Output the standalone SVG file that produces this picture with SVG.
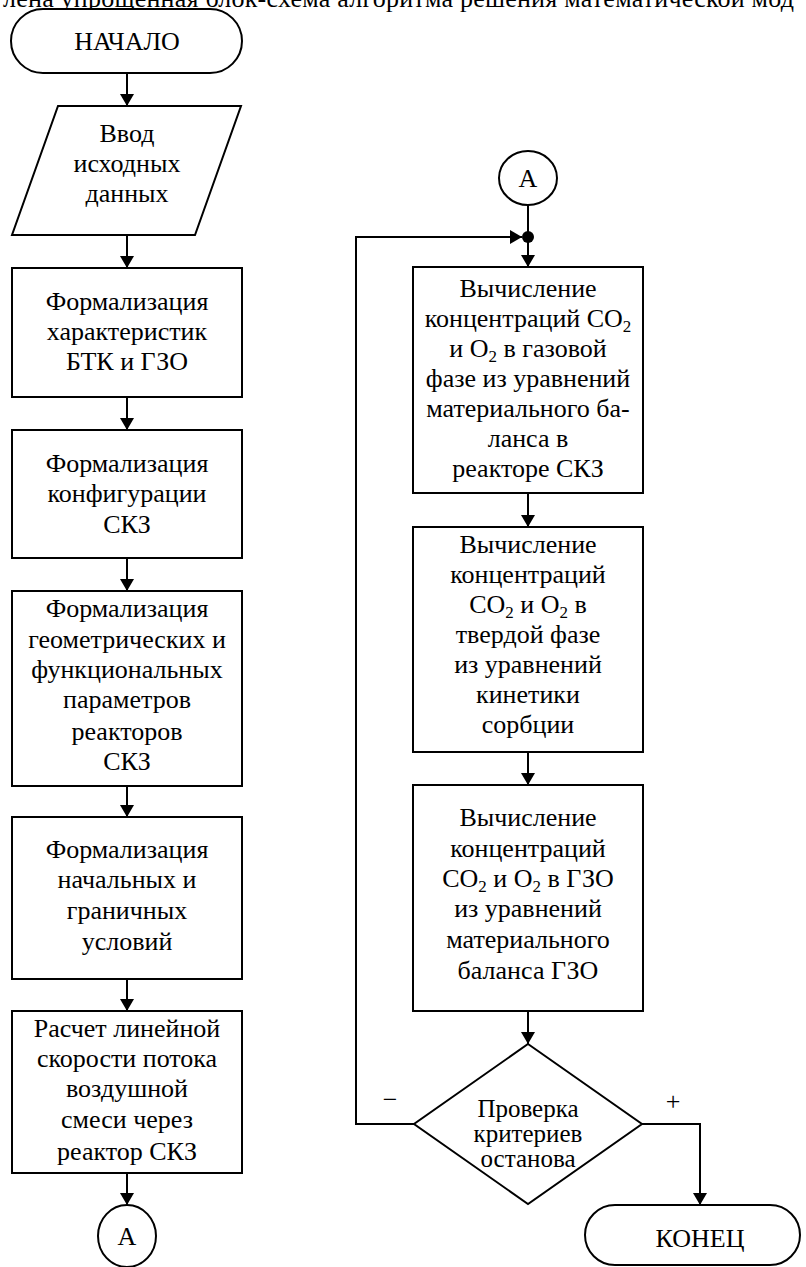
<svg xmlns="http://www.w3.org/2000/svg" width="806" height="1267" viewBox="0 0 806 1267">
<defs>
<style>
.s{fill:#fff;stroke:#000;stroke-width:2}
.t{font-size:26px;fill:#000;text-anchor:middle}
.c{fill:none;stroke:#000;stroke-width:2}
</style>
<marker id="ar" markerUnits="userSpaceOnUse" markerWidth="12" markerHeight="14" refX="12" refY="7" orient="auto" viewBox="0 0 12 14">
<path d="M0,0 L12,7 L0,14 z" fill="#000"/>
</marker>
</defs>
<rect width="806" height="1267" fill="#fff"/>
<g font-family="'Liberation Serif', 'Times New Roman', serif">
<text x="3" y="7" class="t" style="text-anchor:start" textLength="791" lengthAdjust="spacing">лена упрощенная блок-схема алгоритма решения математической мод</text>

<g id="connectors">
<path class="c" d="M127,73 V106" marker-end="url(#ar)"/>
<path class="c" d="M127,235 V268" marker-end="url(#ar)"/>
<path class="c" d="M127,397 V430" marker-end="url(#ar)"/>
<path class="c" d="M127,558 V591" marker-end="url(#ar)"/>
<path class="c" d="M127,786 V817" marker-end="url(#ar)"/>
<path class="c" d="M127,979 V1011" marker-end="url(#ar)"/>
<path class="c" d="M127,1173 V1205" marker-end="url(#ar)"/>
<path class="c" d="M528,205 V237"/>
<path class="c" d="M528,237 V267" marker-end="url(#ar)"/>
<path class="c" d="M528,493 V527" marker-end="url(#ar)"/>
<path class="c" d="M528,752 V785" marker-end="url(#ar)"/>
<path class="c" d="M528,1011 V1044" marker-end="url(#ar)"/>
<path class="c" d="M414,1124 H356 V237 H522" marker-end="url(#ar)"/>
<path class="c" d="M642,1124 H700 V1205" marker-end="url(#ar)"/>
<circle cx="528" cy="237" r="6" fill="#000"/>
<text x="390" y="1108" class="t">−</text>
<text x="673" y="1110" class="t">+</text>
</g>

<g id="start">
<rect class="s" x="11" y="9" width="231" height="64" rx="32"/>
<text x="127" y="50" class="t">НАЧАЛО</text>
</g>

<g id="input">
<polygon class="s" points="58,106 241,106 195,235 12,235"/>
<text class="t"><tspan x="127" y="142">Ввод</tspan><tspan x="127" y="172">исходных</tspan><tspan x="127" y="202">данных</tspan></text>
</g>

<g id="box1">
<rect class="s" x="12" y="268" width="230" height="129"/>
<text class="t"><tspan x="127" y="310">Формализация</tspan><tspan x="127" y="340">характеристик</tspan><tspan x="127" y="370">БТК и ГЗО</tspan></text>
</g>

<g id="box2">
<rect class="s" x="12" y="430" width="230" height="128"/>
<text class="t"><tspan x="127" y="472">Формализация</tspan><tspan x="127" y="502">конфигурации</tspan><tspan x="127" y="533">СКЗ</tspan></text>
</g>

<g id="box3">
<rect class="s" x="12" y="591" width="230" height="195"/>
<text class="t"><tspan x="127" y="617">Формализация</tspan><tspan x="127" y="648">геометрических и</tspan><tspan x="127" y="678">функциональных</tspan><tspan x="127" y="708">параметров</tspan><tspan x="127" y="740">реакторов</tspan><tspan x="127" y="770">СКЗ</tspan></text>
</g>

<g id="box4">
<rect class="s" x="12" y="817" width="230" height="162"/>
<text class="t"><tspan x="127" y="858">Формализация</tspan><tspan x="127" y="888">начальных и</tspan><tspan x="127" y="919">граничных</tspan><tspan x="127" y="950">условий</tspan></text>
</g>

<g id="box5">
<rect class="s" x="12" y="1011" width="230" height="162"/>
<text class="t"><tspan x="127" y="1037">Расчет линейной</tspan><tspan x="127" y="1067">скорости потока</tspan><tspan x="127" y="1097">воздушной</tspan><tspan x="127" y="1128">смеси через</tspan><tspan x="127" y="1160">реактор СКЗ</tspan></text>
</g>

<g id="connA1">
<ellipse class="s" cx="127" cy="1236" rx="29" ry="31"/>
<text x="127" y="1245" class="t">А</text>
</g>

<g id="connA2">
<ellipse class="s" cx="528" cy="178" rx="29" ry="27"/>
<text x="528" y="187" class="t">А</text>
</g>

<g id="calc1">
<rect class="s" x="413" y="267" width="230" height="226"/>
<text class="t"><tspan x="528" y="297">Вычисление</tspan><tspan x="528" y="327">концентраций CO<tspan font-size="17" dy="5">2</tspan></tspan><tspan x="528" y="357">и O<tspan font-size="17" dy="5">2</tspan><tspan dy="-5"> в газовой</tspan></tspan><tspan x="528" y="387">фазе из уравнений</tspan><tspan x="528" y="417">материального ба-</tspan><tspan x="528" y="447">ланса в</tspan><tspan x="528" y="477">реакторе СКЗ</tspan></text>
</g>

<g id="calc2">
<rect class="s" x="413" y="527" width="230" height="225"/>
<text class="t"><tspan x="528" y="553">Вычисление</tspan><tspan x="528" y="583">концентраций</tspan><tspan x="528" y="613">CO<tspan font-size="17" dy="5">2</tspan><tspan dy="-5"> и O</tspan><tspan font-size="17" dy="5">2</tspan><tspan dy="-5"> в</tspan></tspan><tspan x="528" y="643">твердой фазе</tspan><tspan x="528" y="673">из уравнений</tspan><tspan x="528" y="703">кинетики</tspan><tspan x="528" y="733">сорбции</tspan></text>
</g>

<g id="calc3">
<rect class="s" x="413" y="785" width="230" height="226"/>
<text class="t"><tspan x="528" y="826">Вычисление</tspan><tspan x="528" y="857">концентраций</tspan><tspan x="528" y="887">CO<tspan font-size="17" dy="5">2</tspan><tspan dy="-5"> и O</tspan><tspan font-size="17" dy="5">2</tspan><tspan dy="-5"> в ГЗО</tspan></tspan><tspan x="528" y="917">из уравнений</tspan><tspan x="528" y="948">материального</tspan><tspan x="528" y="979">баланса ГЗО</tspan></text>
</g>

<g id="decision">
<polygon class="s" points="528,1044 642,1124 528,1204 414,1124"/>
<text class="t" style="font-size:25px"><tspan x="528" y="1117">Проверка</tspan><tspan x="528" y="1142">критериев</tspan><tspan x="528" y="1167">останова</tspan></text>
</g>

<g id="end">
<rect class="s" x="585" y="1205" width="215" height="60" rx="30"/>
<text x="700" y="1247" class="t">КОНЕЦ</text>
</g>
</g>
</svg>
